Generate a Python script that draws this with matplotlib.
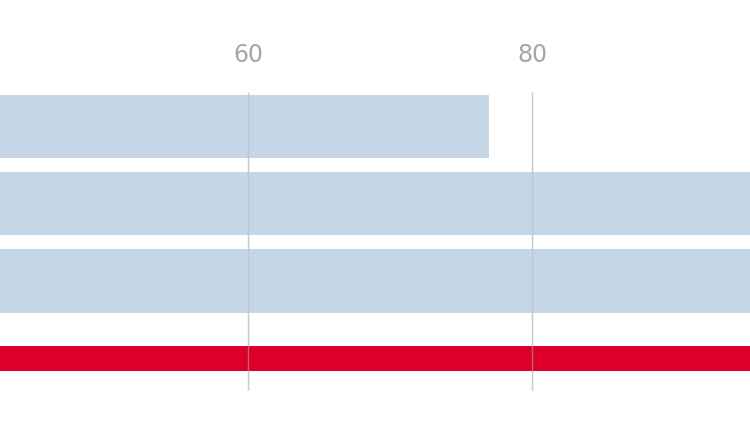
import matplotlib
matplotlib.use("Agg")
import matplotlib.pyplot as plt

categories = ["A", "B", "C", "D"]
values = [77.0, 100.0, 100.0, 100.0]
colors = ["#c5d6e7", "#c5d6e7", "#c5d6e7", "#dc0028"]
ticks = [60, 80]

fig = plt.figure(figsize=(7.5, 4.22), dpi=100)
ax = fig.add_axes([0, 0, 1, 1])
ax.set_xlim(42.54, 95.35)
ax.set_ylim(422, 0)
ax.axis("off")

ax.vlines(ticks, 92, 390, color="#d9d9d9", lw=1, zorder=0)
ypos = [126.5, 203.5, 281, 358.5]
heights = [63, 63, 64, 25]
ax.barh(ypos, values, height=heights, color=colors, zorder=1)
ax.vlines(ticks, 92, 390, color="#b0bccb", lw=1, alpha=0.5, zorder=2)
for t in ticks:
    ax.text(t, 55, str(t), ha="center", va="center", fontsize=17, color="#a6a6a6")

fig.savefig("out.png", dpi=100)
